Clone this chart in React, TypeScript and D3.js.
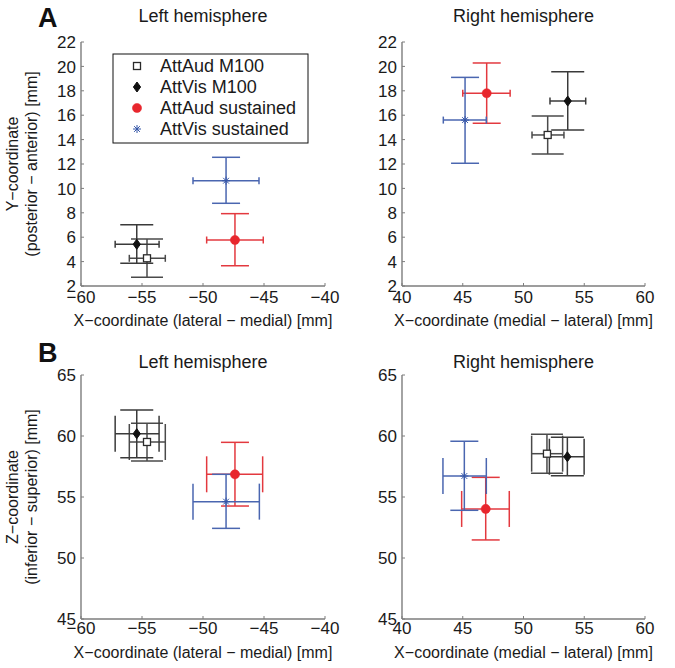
import React from "react";
import * as d3 from "d3";

// ---- data ----
const seriesNames = ["AttAud M100", "AttVis M100", "AttAud sustained", "AttVis sustained"];
const seriesColors = ["#2a2a2a", "#111111", "#e8262d", "#3556a8"];
const seriesLineColors = ["#4a4a4a", "#3a3a3a", "#e3393f", "#4a66b0"];
const seriesMarkers = ["square", "diamond", "circle", "star"];

const xTicksLeft = [-60, -55, -50, -45, -40];
const xTicksRight = [40, 45, 50, 55, 60];
const yTicksA = [2, 4, 6, 8, 10, 12, 14, 16, 18, 20, 22];
const yTicksB = [45, 50, 55, 60, 65];

// Panel A, left hemisphere (X vs Y)
const aLeftX = [-54.59, -55.43, -47.38, -48.11];
const aLeftY = [4.27, 5.42, 5.77, 10.63];
const aLeftXLo = [-56.04, -57.2, -49.7, -50.82];
const aLeftXHi = [-53.09, -53.6, -45.06, -45.41];
const aLeftYLo = [2.71, 3.86, 3.66, 8.78];
const aLeftYHi = [5.85, 7.02, 7.93, 12.55];

// Panel A, right hemisphere
const aRightX = [51.99, 53.64, 46.97, 45.19];
const aRightY = [14.38, 17.16, 17.8, 15.6];
const aRightXLo = [50.7, 52.18, 45.0, 43.4];
const aRightXHi = [53.33, 55.12, 48.9, 46.94];
const aRightYLo = [12.82, 14.79, 15.34, 12.06];
const aRightYHi = [15.93, 19.57, 20.28, 19.1];

// Panel B, left hemisphere (X vs Z)
const bLeftX = [-54.59, -55.43, -47.38, -48.11];
const bLeftZ = [59.51, 60.19, 56.86, 54.62];
const bLeftXLo = [-56.04, -57.2, -49.7, -50.82];
const bLeftXHi = [-53.09, -53.6, -45.11, -45.38];
const bLeftZLo = [57.95, 58.22, 54.26, 52.43];
const bLeftZHi = [61.04, 62.13, 59.48, 56.86];

// Panel B, right hemisphere
const bRightX = [51.93, 53.61, 46.89, 45.13];
const bRightZ = [58.55, 58.3, 54.02, 56.72];
const bRightXLo = [50.67, 52.13, 44.91, 43.37];
const bRightXHi = [53.22, 54.99, 48.83, 46.94];
const bRightZLo = [56.94, 56.75, 51.48, 53.91];
const bRightZHi = [60.14, 59.89, 56.61, 59.57];

// ---- styles ----
const FONT = "'Liberation Sans', Arial, Helvetica, sans-serif";
const AXIS_COLOR = "#7d7d7d";
const capWidths = [32, 33, 28, 28];

type Pt = { x: number; y: number; xlo: number; xhi: number; ylo: number; yhi: number };

function Marker({ kind, cx, cy, color }: { kind: string; cx: number; cy: number; color: string }) {
  if (kind === "square") {
    return <rect x={cx - 3.5} y={cy - 3.5} width={7} height={7} fill="#fff" stroke={color} strokeWidth={1.3} />;
  }
  if (kind === "diamond") {
    return <path d={`M${cx},${cy - 5} L${cx + 3.6},${cy} L${cx},${cy + 5} L${cx - 3.6},${cy} Z`} fill={color} stroke={color} strokeWidth={1} />;
  }
  if (kind === "circle") {
    return <circle cx={cx} cy={cy} r={4.6} fill={color} stroke={color} strokeWidth={0.5} />;
  }
  const r = 4;
  const d = r * 0.72;
  return (
    <g stroke={color} strokeWidth={1}>
      <line x1={cx - r} y1={cy} x2={cx + r} y2={cy} />
      <line x1={cx} y1={cy - r} x2={cx} y2={cy + r} />
      <line x1={cx - d} y1={cy - d} x2={cx + d} y2={cy + d} />
      <line x1={cx - d} y1={cy + d} x2={cx + d} y2={cy - d} />
    </g>
  );
}

function Panel({
  xDomain, yDomain, xRange, yRange, xTicks, yTicks, pts, hCap, title, titleY, xLabel, tickLabelDy, xLabelDy,
}: {
  xDomain: [number, number]; yDomain: [number, number]; xRange: [number, number]; yRange: [number, number];
  xTicks: number[]; yTicks: number[]; pts: Pt[]; hCap: number; title: string; titleY: number; xLabel: string;
  tickLabelDy: number; xLabelDy: number;
}) {
  const xs = d3.scaleLinear().domain(xDomain).range(xRange);
  const ys = d3.scaleLinear().domain(yDomain).range(yRange);
  const x0 = xRange[0];
  const y0 = yRange[0];
  const fmt = (v: number) => (v < 0 ? "\u2212" + Math.abs(v) : String(v));
  return (
    <g>
      <text x={(xRange[0] + xRange[1]) / 2} y={titleY} textAnchor="middle" fontSize={18} fill="#1a1a1a">{title}</text>
      {pts.map((p, i) => {
        const c = seriesLineColors[i];
        const cx = xs(p.x), cy = ys(p.y);
        const cw = capWidths[i] / 2;
        return (
          <g key={i} stroke={c} strokeWidth={1.5} fill="none">
            <line x1={cx} y1={ys(p.ylo)} x2={cx} y2={ys(p.yhi)} />
            <line x1={cx - cw} y1={ys(p.ylo)} x2={cx + cw} y2={ys(p.ylo)} />
            <line x1={cx - cw} y1={ys(p.yhi)} x2={cx + cw} y2={ys(p.yhi)} />
            <line x1={xs(p.xlo)} y1={cy} x2={xs(p.xhi)} y2={cy} />
            <line x1={xs(p.xlo)} y1={cy - hCap / 2} x2={xs(p.xlo)} y2={cy + hCap / 2} />
            <line x1={xs(p.xhi)} y1={cy - hCap / 2} x2={xs(p.xhi)} y2={cy + hCap / 2} />
          </g>
        );
      })}
      {pts.map((p, i) => (
        <Marker key={"m" + i} kind={seriesMarkers[i]} cx={xs(p.x)} cy={ys(p.y)} color={seriesColors[i]} />
      ))}
      <g stroke={AXIS_COLOR} strokeWidth={1.4}>
        <line x1={x0} y1={yRange[1]} x2={x0} y2={y0} />
        <line x1={x0} y1={y0} x2={xRange[1]} y2={y0} />
        {xTicks.map((t) => (
          <line key={"xt" + t} x1={xs(t)} y1={y0} x2={xs(t)} y2={y0 - 3} strokeWidth={1} />
        ))}
        {yTicks.map((t) => (
          <line key={"yt" + t} x1={x0} y1={ys(t)} x2={x0 + 3} y2={ys(t)} strokeWidth={1} />
        ))}
      </g>
      {xTicks.map((t) => (
        <text key={"xl" + t} x={xs(t)} y={y0 + tickLabelDy} textAnchor="middle" fontSize={17} fill="#1a1a1a">{fmt(t)}</text>
      ))}
      {yTicks.map((t) => (
        <text key={"yl" + t} x={x0 - 5} y={ys(t)} dy="0.36em" textAnchor="end" fontSize={17} fill="#1a1a1a">{fmt(t)}</text>
      ))}
      <text x={(xRange[0] + xRange[1]) / 2} y={y0 + xLabelDy} textAnchor="middle" fontSize={16} fill="#1a1a1a">{xLabel}</text>
    </g>
  );
}

function toPts(x: number[], y: number[], xlo: number[], xhi: number[], ylo: number[], yhi: number[]): Pt[] {
  return x.map((v, i) => ({ x: v, y: y[i], xlo: xlo[i], xhi: xhi[i], ylo: ylo[i], yhi: yhi[i] }));
}

export default function App() {
  const leftRange: [number, number] = [81, 325];
  const rightRange: [number, number] = [402, 645];
  const aRange: [number, number] = [286, 42];
  const bRange: [number, number] = [619, 375];
  const xlabL = "X\u2212coordinate (lateral \u2212 medial) [mm]";
  const xlabR = "X\u2212coordinate (medial \u2212 lateral) [mm]";
  const legendY = [66, 87, 108, 129];
  return (
    <svg width={675} height={668} style={{ position: "absolute", left: 0, top: 0, background: "#fff" }} fontFamily={FONT}>
      <rect x={0} y={0} width={675} height={668} fill="#fff" />
      <text x={38} y={27} fontSize={27} fontWeight="bold" fill="#111">A</text>
      <text x={38} y={362} fontSize={27} fontWeight="bold" fill="#111">B</text>

      <Panel xDomain={[-60, -40]} yDomain={[2, 22]} xRange={leftRange} yRange={aRange} xTicks={xTicksLeft} yTicks={yTicksA}
        pts={toPts(aLeftX, aLeftY, aLeftXLo, aLeftXHi, aLeftYLo, aLeftYHi)} hCap={7} title="Left hemisphere" titleY={22}
        xLabel={xlabL} tickLabelDy={17} xLabelDy={40} />
      <Panel xDomain={[40, 60]} yDomain={[2, 22]} xRange={rightRange} yRange={aRange} xTicks={xTicksRight} yTicks={yTicksA}
        pts={toPts(aRightX, aRightY, aRightXLo, aRightXHi, aRightYLo, aRightYHi)} hCap={7} title="Right hemisphere" titleY={22}
        xLabel={xlabR} tickLabelDy={17} xLabelDy={40} />
      <Panel xDomain={[-60, -40]} yDomain={[45, 65]} xRange={leftRange} yRange={bRange} xTicks={xTicksLeft} yTicks={yTicksB}
        pts={toPts(bLeftX, bLeftZ, bLeftXLo, bLeftXHi, bLeftZLo, bLeftZHi)} hCap={36} title="Left hemisphere" titleY={368}
        xLabel={xlabL} tickLabelDy={15} xLabelDy={39} />
      <Panel xDomain={[40, 60]} yDomain={[45, 65]} xRange={rightRange} yRange={bRange} xTicks={xTicksRight} yTicks={yTicksB}
        pts={toPts(bRightX, bRightZ, bRightXLo, bRightXHi, bRightZLo, bRightZHi)} hCap={36} title="Right hemisphere" titleY={368}
        xLabel={xlabR} tickLabelDy={15} xLabelDy={39} />

      <g transform="translate(18,164) rotate(-90)">
        <text x={0} y={0} textAnchor="middle" fontSize={16} fill="#1a1a1a">{"Y\u2212coordinate"}</text>
        <text x={0} y={19} textAnchor="middle" fontSize={16} fill="#1a1a1a">{"(posterior \u2212 anterior) [mm]"}</text>
      </g>
      <g transform="translate(18,497) rotate(-90)">
        <text x={0} y={0} textAnchor="middle" fontSize={16} fill="#1a1a1a">{"Z\u2212coordinate"}</text>
        <text x={0} y={19} textAnchor="middle" fontSize={16} fill="#1a1a1a">{"(inferior \u2212 superior) [mm]"}</text>
      </g>

      <rect x={113} y={54} width={195} height={89} fill="#fff" stroke="#111" strokeWidth={1} />
      {seriesNames.map((n, i) => (
        <g key={n}>
          <Marker kind={seriesMarkers[i]} cx={137} cy={legendY[i]} color={seriesColors[i]} />
          <text x={160} y={legendY[i]} dy="0.36em" fontSize={18} fill="#1a1a1a">{n}</text>
        </g>
      ))}
    </svg>
  );
}
